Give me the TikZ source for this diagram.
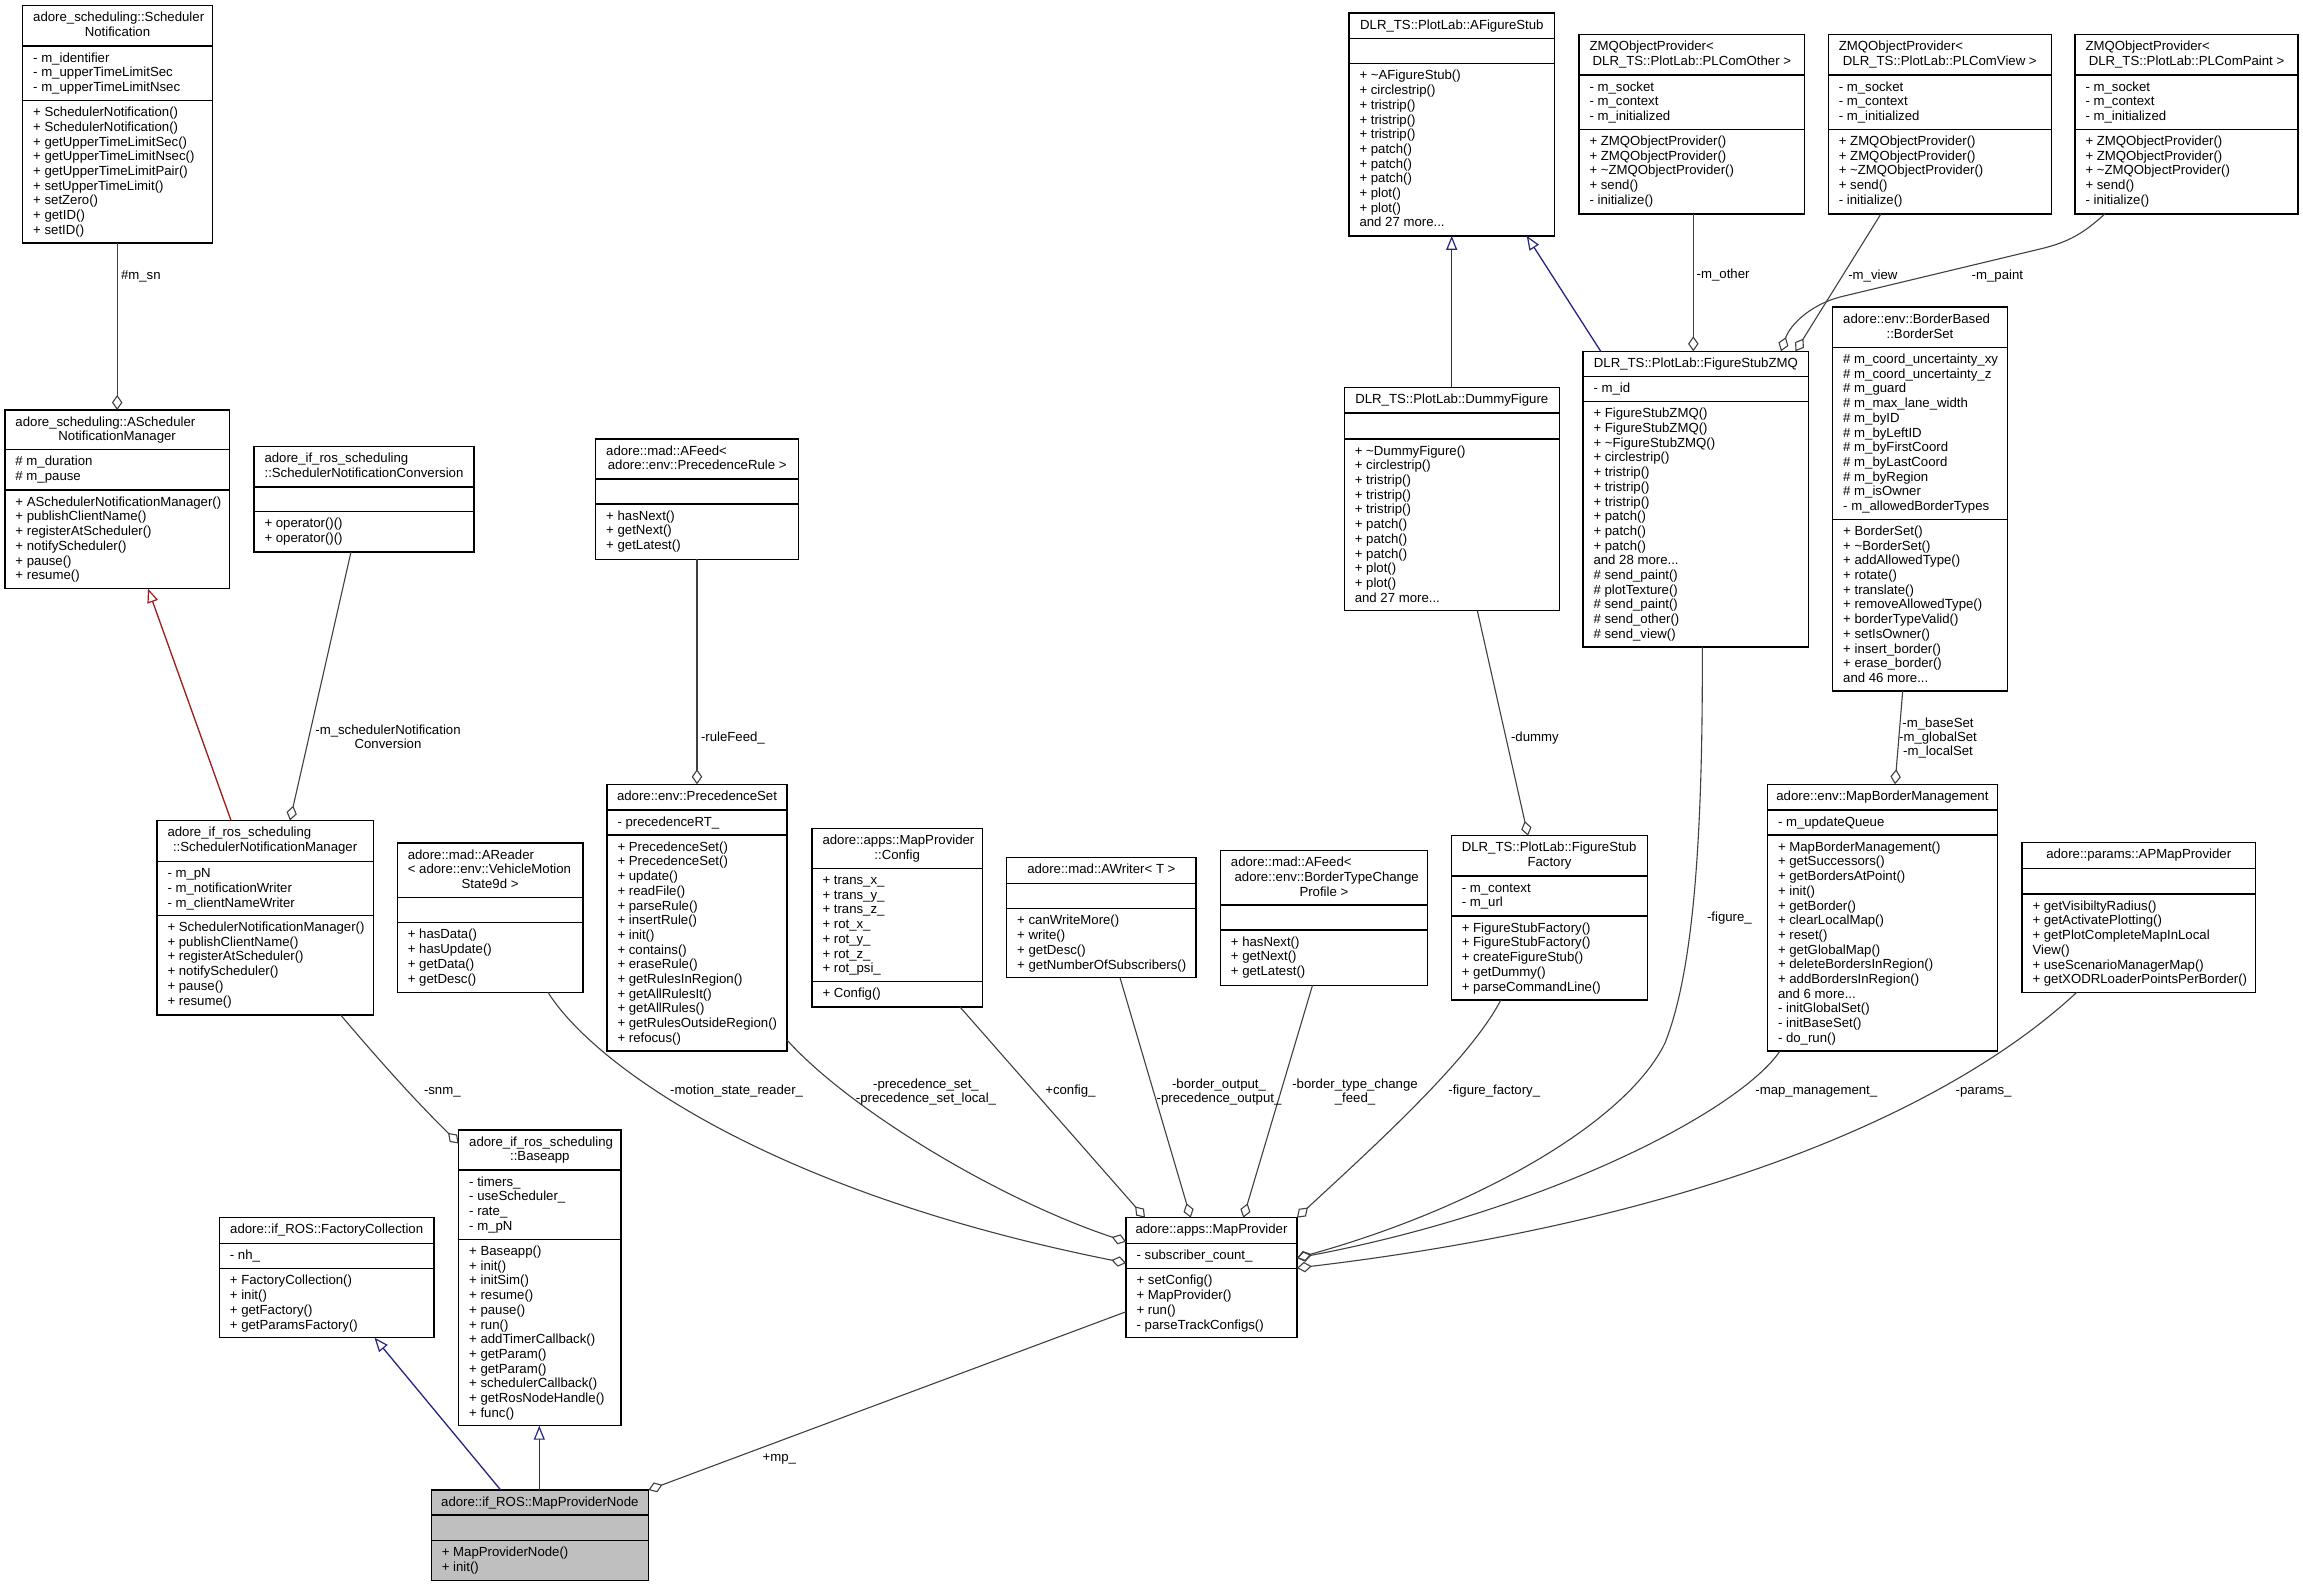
\documentclass[tikz,border=0pt]{standalone}
\usepackage{fontspec}
\setmainfont{Liberation Sans}
\usetikzlibrary{arrows.meta}
\definecolor{edgegray}{HTML}{404040}
\definecolor{inhblue}{HTML}{262682}
\definecolor{inhred}{HTML}{9B1C1C}
\definecolor{nodegray}{HTML}{BFBFBF}

\tikzset{
  every node/.style={font=\fontsize{13.2}{14.7}\selectfont, inner sep=0pt, outer sep=0pt},
  boxline/.style={draw=black, line width=1.4pt},
  divline/.style={draw=black, line width=1.4pt},
  agg/.style={draw=edgegray, line width=1.1pt, -{Diamond[open, length=15pt, width=10.5pt, line width=1.1pt]}},
  inhb/.style={draw=inhblue, line width=1.3pt, -{Triangle[open, length=14pt, width=11pt, line width=1.2pt]}},
  inhr/.style={draw=inhred, line width=1.3pt, -{Triangle[open, length=14pt, width=11pt, line width=1.2pt]}},
  lbl/.style={anchor=base west},
  lblc/.style={anchor=base},
}

% box: [fill]{name}{x1}{y1}{x2}{y2}{divider1}{divider2}
\newcommand\umlcls[8][white]{%
  \node[boxline, fill=#1, minimum width={(#5-#3)*1pt}, minimum height={(#6-#4)*1pt}, anchor=north west] (#2) at (#3,#4) {};
  \draw[divline] (#3,#7) -- (#5,#7);
  \draw[divline] (#3,#8) -- (#5,#8);
  \def\ux{#3}\def\uy{#4}\def\uxb{#5}%
}
% header: {name}{number of left lines}{left lines}{last centred line}
\newcommand\umlhdr[4]{%
  \ifnum#2>0
    \node[anchor=base west] (#1-h1) at ({\ux+10.5},{\uy+16.2}) {\begin{tabular}[t]{@{}l@{}}#3\end{tabular}};
  \fi
  \node[anchor=base] (#1-h2) at ({(\ux+\uxb)/2},{\uy+16.2+#2*14.7}) {#4};
}
% section: {name}{top}{rows}
\newcommand\umlsec[3]{%
  \node[anchor=base west] (#1) at ({\ux+10.5},{#2+16.2}) {\begin{tabular}[t]{@{}l@{}}#3\end{tabular}};
}
\newcommand\lbltab[1]{{\renewcommand\arraystretch{0.96}\begin{tabular}[t]{@{}c@{}}#1\end{tabular}}}

\begin{document}
\begin{tikzpicture}[x=1pt, y=-1pt]
\fill[white] (0,0) rectangle (2303,1587);
\useasboundingbox (0,0) rectangle (2303,1587);

% ---------------- classes ----------------
\umlcls{sn}{22.7}{5.7}{212.3}{243}{46}{100.6}
\umlhdr{sn}{1}{adore\_scheduling::Scheduler}{Notification}
\umlsec{sn-a}{46}{- m\_identifier\\- m\_upperTimeLimitSec\\- m\_upperTimeLimitNsec}
\umlsec{sn-m}{100.6}{+ SchedulerNotification()\\+ SchedulerNotification()\\+ getUpperTimeLimitSec()\\+ getUpperTimeLimitNsec()\\+ getUpperTimeLimitPair()\\+ setUpperTimeLimit()\\+ setZero()\\+ getID()\\+ setID()}

\umlcls{asnm}{5}{410}{229.3}{588.6}{449.7}{490}
\umlhdr{asnm}{1}{adore\_scheduling::AScheduler}{NotificationManager}
\umlsec{asnm-a}{449.7}{\# m\_duration\\\# m\_pause}
\umlsec{asnm-m}{490}{+ ASchedulerNotificationManager()\\+ publishClientName()\\+ registerAtScheduler()\\+ notifyScheduler()\\+ pause()\\+ resume()}

\umlcls{snc}{254}{446.6}{474}{551.9}{486.8}{511.7}
\umlhdr{snc}{1}{adore\_if\_ros\_scheduling}{::SchedulerNotificationConversion}
\umlsec{snc-m}{511.7}{+ operator()()\\+ operator()()}

\umlcls{snm}{157}{820.4}{373.3}{1015}{861.5}{915.3}
\umlhdr{snm}{1}{adore\_if\_ros\_scheduling}{::SchedulerNotificationManager}
\umlsec{snm-a}{861.5}{- m\_pN\\- m\_notificationWriter\\- m\_clientNameWriter}
\umlsec{snm-m}{915.3}{+ SchedulerNotificationManager()\\+ publishClientName()\\+ registerAtScheduler()\\+ notifyScheduler()\\+ pause()\\+ resume()}

\umlcls{areader}{397.3}{843}{582.8}{992.3}{897.5}{922.7}
\umlhdr{areader}{2}{adore::mad::AReader\\< adore::env::VehicleMotion}{State9d >}
\umlsec{areader-m}{922.7}{+ hasData()\\+ hasUpdate()\\+ getData()\\+ getDesc()}

\umlcls{afeedpr}{595.7}{439}{798.7}{559.3}{479}{504}
\umlhdr{afeedpr}{1}{adore::mad::AFeed<}{adore::env::PrecedenceRule >}
\umlsec{afeedpr-m}{504}{+ hasNext()\\+ getNext()\\+ getLatest()}

\umlcls{precset}{607}{784.3}{787}{1051}{810}{835}
\umlhdr{precset}{0}{}{adore::env::PrecedenceSet}
\umlsec{precset-a}{810}{- precedenceRT\_}
\umlsec{precset-m}{835}{+ PrecedenceSet()\\+ PrecedenceSet()\\+ update()\\+ readFile()\\+ parseRule()\\+ insertRule()\\+ init()\\+ contains()\\+ eraseRule()\\+ getRulesInRegion()\\+ getAllRulesIt()\\+ getAllRules()\\+ getRulesOutsideRegion()\\+ refocus()}

\umlcls{config}{812}{828.3}{982.3}{1007}{868.3}{981.7}
\umlhdr{config}{1}{adore::apps::MapProvider}{::Config}
\umlsec{config-a}{868.3}{+ trans\_x\_\\+ trans\_y\_\\+ trans\_z\_\\+ rot\_x\_\\+ rot\_y\_\\+ rot\_z\_\\+ rot\_psi\_}
\umlsec{config-m}{981.7}{+ Config()}

\umlcls{awriter}{1006.7}{857.7}{1196}{977.7}{883.3}{908.7}
\umlhdr{awriter}{0}{}{adore::mad::AWriter< T >}
\umlsec{awriter-m}{908.7}{+ canWriteMore()\\+ write()\\+ getDesc()\\+ getNumberOfSubscribers()}

\umlcls{afeedbt}{1220.4}{850.7}{1427.4}{985.3}{905}{930}
\umlhdr{afeedbt}{2}{adore::mad::AFeed<\\\ adore::env::BorderTypeChange}{Profile >}
\umlsec{afeedbt-m}{930}{+ hasNext()\\+ getNext()\\+ getLatest()}

\umlcls{afig}{1349}{13}{1554.7}{235.9}{38.6}{63.7}
\umlhdr{afig}{0}{}{DLR\_TS::PlotLab::AFigureStub}
\umlsec{afig-m}{63.7}{+ \textasciitilde AFigureStub()\\+ circlestrip()\\+ tristrip()\\+ tristrip()\\+ tristrip()\\+ patch()\\+ patch()\\+ patch()\\+ plot()\\+ plot()\\and 27 more...}

\umlcls{dummy}{1344.3}{387.2}{1559.3}{610.6}{412.8}{438.9}
\umlhdr{dummy}{0}{}{DLR\_TS::PlotLab::DummyFigure}
\umlsec{dummy-m}{438.9}{+ \textasciitilde DummyFigure()\\+ circlestrip()\\+ tristrip()\\+ tristrip()\\+ tristrip()\\+ patch()\\+ patch()\\+ patch()\\+ plot()\\+ plot()\\and 27 more...}

\umlcls{zmqo}{1579}{34.7}{1804.7}{213.8}{75}{129.2}
\umlhdr{zmqo}{1}{ZMQObjectProvider<}{DLR\_TS::PlotLab::PLComOther >}
\umlsec{zmqo-a}{75}{- m\_socket\\- m\_context\\- m\_initialized}
\umlsec{zmqo-m}{129.2}{+ ZMQObjectProvider()\\+ ZMQObjectProvider()\\+ \textasciitilde ZMQObjectProvider()\\+ send()\\- initialize()}

\umlcls{zmqv}{1828.3}{34.8}{2051.3}{213.8}{75}{129.2}
\umlhdr{zmqv}{1}{ZMQObjectProvider<}{DLR\_TS::PlotLab::PLComView >}
\umlsec{zmqv-a}{75}{- m\_socket\\- m\_context\\- m\_initialized}
\umlsec{zmqv-m}{129.2}{+ ZMQObjectProvider()\\+ ZMQObjectProvider()\\+ \textasciitilde ZMQObjectProvider()\\+ send()\\- initialize()}

\umlcls{zmqp}{2075}{34.8}{2298}{213.8}{75}{129.2}
\umlhdr{zmqp}{1}{ZMQObjectProvider<}{DLR\_TS::PlotLab::PLComPaint >}
\umlsec{zmqp-a}{75}{- m\_socket\\- m\_context\\- m\_initialized}
\umlsec{zmqp-m}{129.2}{+ ZMQObjectProvider()\\+ ZMQObjectProvider()\\+ \textasciitilde ZMQObjectProvider()\\+ send()\\- initialize()}

\umlcls{fszmq}{1583}{351.3}{1808.7}{647}{376.4}{401.6}
\umlhdr{fszmq}{0}{}{DLR\_TS::PlotLab::FigureStubZMQ}
\umlsec{fszmq-a}{376.4}{- m\_id}
\umlsec{fszmq-m}{401.6}{+ FigureStubZMQ()\\+ FigureStubZMQ()\\+ \textasciitilde FigureStubZMQ()\\+ circlestrip()\\+ tristrip()\\+ tristrip()\\+ tristrip()\\+ patch()\\+ patch()\\+ patch()\\and 28 more...\\\# send\_paint()\\\# plotTexture()\\\# send\_paint()\\\# send\_other()\\\# send\_view()}

\umlcls{bset}{1832.7}{307.1}{2007.3}{691}{347.3}{519.2}
\umlhdr{bset}{1}{adore::env::BorderBased}{::BorderSet}
\umlsec{bset-a}{347.3}{\# m\_coord\_uncertainty\_xy\\\# m\_coord\_uncertainty\_z\\\# m\_guard\\\# m\_max\_lane\_width\\\# m\_byID\\\# m\_byLeftID\\\# m\_byFirstCoord\\\# m\_byLastCoord\\\# m\_byRegion\\\# m\_isOwner\\- m\_allowedBorderTypes}
\umlsec{bset-m}{519.2}{+ BorderSet()\\+ \textasciitilde BorderSet()\\+ addAllowedType()\\+ rotate()\\+ translate()\\+ removeAllowedType()\\+ borderTypeValid()\\+ setIsOwner()\\+ insert\_border()\\+ erase\_border()\\and 46 more...}

\umlcls{fsf}{1451.3}{835.7}{1647.7}{1000}{876}{916}
\umlhdr{fsf}{1}{DLR\_TS::PlotLab::FigureStub}{Factory}
\umlsec{fsf-a}{876}{- m\_context\\- m\_url}
\umlsec{fsf-m}{916}{+ FigureStubFactory()\\+ FigureStubFactory()\\+ createFigureStub()\\+ getDummy()\\+ parseCommandLine()}

\umlcls{mbm}{1767.5}{784.3}{1997.3}{1051}{810}{835}
\umlhdr{mbm}{0}{}{adore::env::MapBorderManagement}
\umlsec{mbm-a}{810}{- m\_updateQueue}
\umlsec{mbm-m}{835}{+ MapBorderManagement()\\+ getSuccessors()\\+ getBordersAtPoint()\\+ init()\\+ getBorder()\\+ clearLocalMap()\\+ reset()\\+ getGlobalMap()\\+ deleteBordersInRegion()\\+ addBordersInRegion()\\and 6 more...\\- initGlobalSet()\\- initBaseSet()\\- do\_run()}

\umlcls{apmp}{2022}{842.7}{2255.4}{992.3}{868.3}{894}
\umlhdr{apmp}{0}{}{adore::params::APMapProvider}
\umlsec{apmp-m}{894}{+ getVisibiltyRadius()\\+ getActivatePlotting()\\+ getPlotCompleteMapInLocal\\View()\\+ useScenarioManagerMap()\\+ getXODRLoaderPointsPerBorder()}

\umlcls{factc}{219.4}{1217.7}{434}{1337.7}{1243.3}{1268.7}
\umlhdr{factc}{0}{}{adore::if\_ROS::FactoryCollection}
\umlsec{factc-a}{1243.3}{- nh\_}
\umlsec{factc-m}{1268.7}{+ FactoryCollection()\\+ init()\\+ getFactory()\\+ getParamsFactory()}

\umlcls{baseapp}{458.7}{1130}{621}{1425.7}{1170}{1239.3}
\umlhdr{baseapp}{1}{adore\_if\_ros\_scheduling}{::Baseapp}
\umlsec{baseapp-a}{1170}{- timers\_\\- useScheduler\_\\- rate\_\\- m\_pN}
\umlsec{baseapp-m}{1239.3}{+ Baseapp()\\+ init()\\+ initSim()\\+ resume()\\+ pause()\\+ run()\\+ addTimerCallback()\\+ getParam()\\+ getParam()\\+ schedulerCallback()\\+ getRosNodeHandle()\\+ func()}

\umlcls{mapprov}{1126.1}{1217.7}{1296.9}{1337.7}{1243.3}{1268.7}
\umlhdr{mapprov}{0}{}{adore::apps::MapProvider}
\umlsec{mapprov-a}{1243.3}{- subscriber\_count\_}
\umlsec{mapprov-m}{1268.7}{+ setConfig()\\+ MapProvider()\\+ run()\\- parseTrackConfigs()}

\umlcls[nodegray]{mpnode}{431.3}{1490}{648.4}{1580.3}{1515}{1540.7}
\umlhdr{mpnode}{0}{}{adore::if\_ROS::MapProviderNode}
\umlsec{mpnode-m}{1540.7}{+ MapProviderNode()\\+ init()}

% ---------------- connectors ----------------
\draw[agg] ([xshift=94.5pt]sn.south west) -- ([xshift=112.2pt]asnm.north west);
\draw[inhr] ([xshift=74pt]snm.north west) -- ([xshift=143pt]asnm.south west);
\draw[agg] ([xshift=97pt]snc.south west) -- ([xshift=133pt]snm.north west);
\draw[agg] ([xshift=183.7pt]snm.south west) .. controls (400,1085) and (432,1117) .. ([yshift=-13.5pt]baseapp.north west);
\draw[agg] ([xshift=150.7pt]areader.south west) .. controls (590,1060) and (760,1190) .. ([yshift=-45.3pt]mapprov.north west);
\draw[agg] ([xshift=101.3pt]afeedpr.south west) -- ([xshift=90pt]precset.north west);
\draw[agg] ([yshift=11pt]precset.south east) .. controls (850,1110) and (1000,1200) .. ([yshift=-24pt]mapprov.north west);
\draw[agg] ([xshift=148pt]config.south west) -- ([xshift=18.9pt]mapprov.north west);
\draw[agg] ([xshift=113.3pt]awriter.south west) -- ([xshift=64.6pt]mapprov.north west);
\draw[agg] ([xshift=92.1pt]afeedbt.south west) -- ([xshift=117.2pt]mapprov.north west);
\draw[agg] ([xshift=49.5pt]fsf.south west) .. controls (1470,1060) and (1370,1150) .. (mapprov.north east);
\draw[agg] ([xshift=119.3pt]fszmq.south west) .. controls (1703,850) and (1692,975) .. (1665,1043) .. controls (1625,1125) and (1470,1210) .. ([yshift=-40.3pt]mapprov.north east);
\draw[agg] ([xshift=12.5pt]mbm.south west) .. controls (1740,1110) and (1550,1210) .. ([yshift=-40.3pt]mapprov.north east);
\draw[agg] ([xshift=54.8pt]apmp.south west) .. controls (1950,1110) and (1700,1220) .. ([yshift=-50.3pt]mapprov.north east);
\draw[agg] ([xshift=70pt]bset.south west) -- ([xshift=127.5pt]mbm.north west);
\draw[inhb] ([xshift=107.4pt]dummy.north west) -- ([xshift=102.7pt]afig.south west);
\draw[inhb] ([xshift=17.7pt]fszmq.north west) -- ([xshift=177.7pt]afig.south west);
\draw[agg] ([xshift=114.3pt]zmqo.south west) -- ([xshift=110.3pt]fszmq.north west);
\draw[agg] ([xshift=52.7pt]zmqv.south west) -- ([xshift=212.5pt]fszmq.north west);
\draw[agg] ([xshift=30pt]zmqp.south west) .. controls (2085,232) and (2070,242) .. (2040,249) -- (1840,297) .. controls (1810,305) and (1790,325) .. ([xshift=198pt]fszmq.north west);
\draw[agg] ([xshift=133pt]dummy.south west) -- ([xshift=76.7pt]fsf.north west);
\draw[agg] ([yshift=-94pt]mapprov.north west) -- (mpnode.north east);
\draw[inhb] ([xshift=69.4pt]mpnode.north west) -- ([xshift=155.1pt]factc.south west);
\draw[inhb] ([xshift=108pt]mpnode.north west) -- ([xshift=80.6pt]baseapp.south west);

% ---------------- connector labels ----------------
\node[lbl] (l-msn) at (121,279.4) {\#m\_sn};
\node[lblc] (l-snc) at (388,734) {\lbltab{-m\_schedulerNotification\\Conversion}};
\node[lbl] (l-snm) at (424,1094.6) {-snm\_};
\node[lblc] (l-msr) at (736.6,1094.6) {-motion\_state\_reader\_};
\node[lbl] (l-rf) at (701,741.3) {-ruleFeed\_};
\node[lblc] (l-ps) at (926,1088) {\lbltab{-precedence\_set\_\\-precedence\_set\_local\_}};
\node[lbl] (l-cfg) at (1045.3,1094.6) {+config\_};
\node[lblc] (l-bo) at (1219,1088) {\lbltab{-border\_output\_\\-precedence\_output\_}};
\node[lblc] (l-btc) at (1355,1088) {\lbltab{-border\_type\_change\\\_feed\_}};
\node[lbl] (l-ff) at (1448.4,1094.6) {-figure\_factory\_};
\node[lbl] (l-fig) at (1707,921.3) {-figure\_};
\node[lbl] (l-mm) at (1755.4,1094.6) {-map\_management\_};
\node[lbl] (l-par) at (1955.7,1094.6) {-params\_};
\node[lblc] (l-bs) at (1938,727.3) {\lbltab{-m\_baseSet\\-m\_globalSet\\-m\_localSet}};
\node[lbl] (l-oth) at (1696.7,278.6) {-m\_other};
\node[lbl] (l-view) at (1848.3,279.2) {-m\_view};
\node[lbl] (l-paint) at (1971.7,279.2) {-m\_paint};
\node[lbl] (l-dum) at (1511,741) {-dummy};
\node[lbl] (l-mp) at (762.6,1461.3) {+mp\_};
\end{tikzpicture}
\end{document}
